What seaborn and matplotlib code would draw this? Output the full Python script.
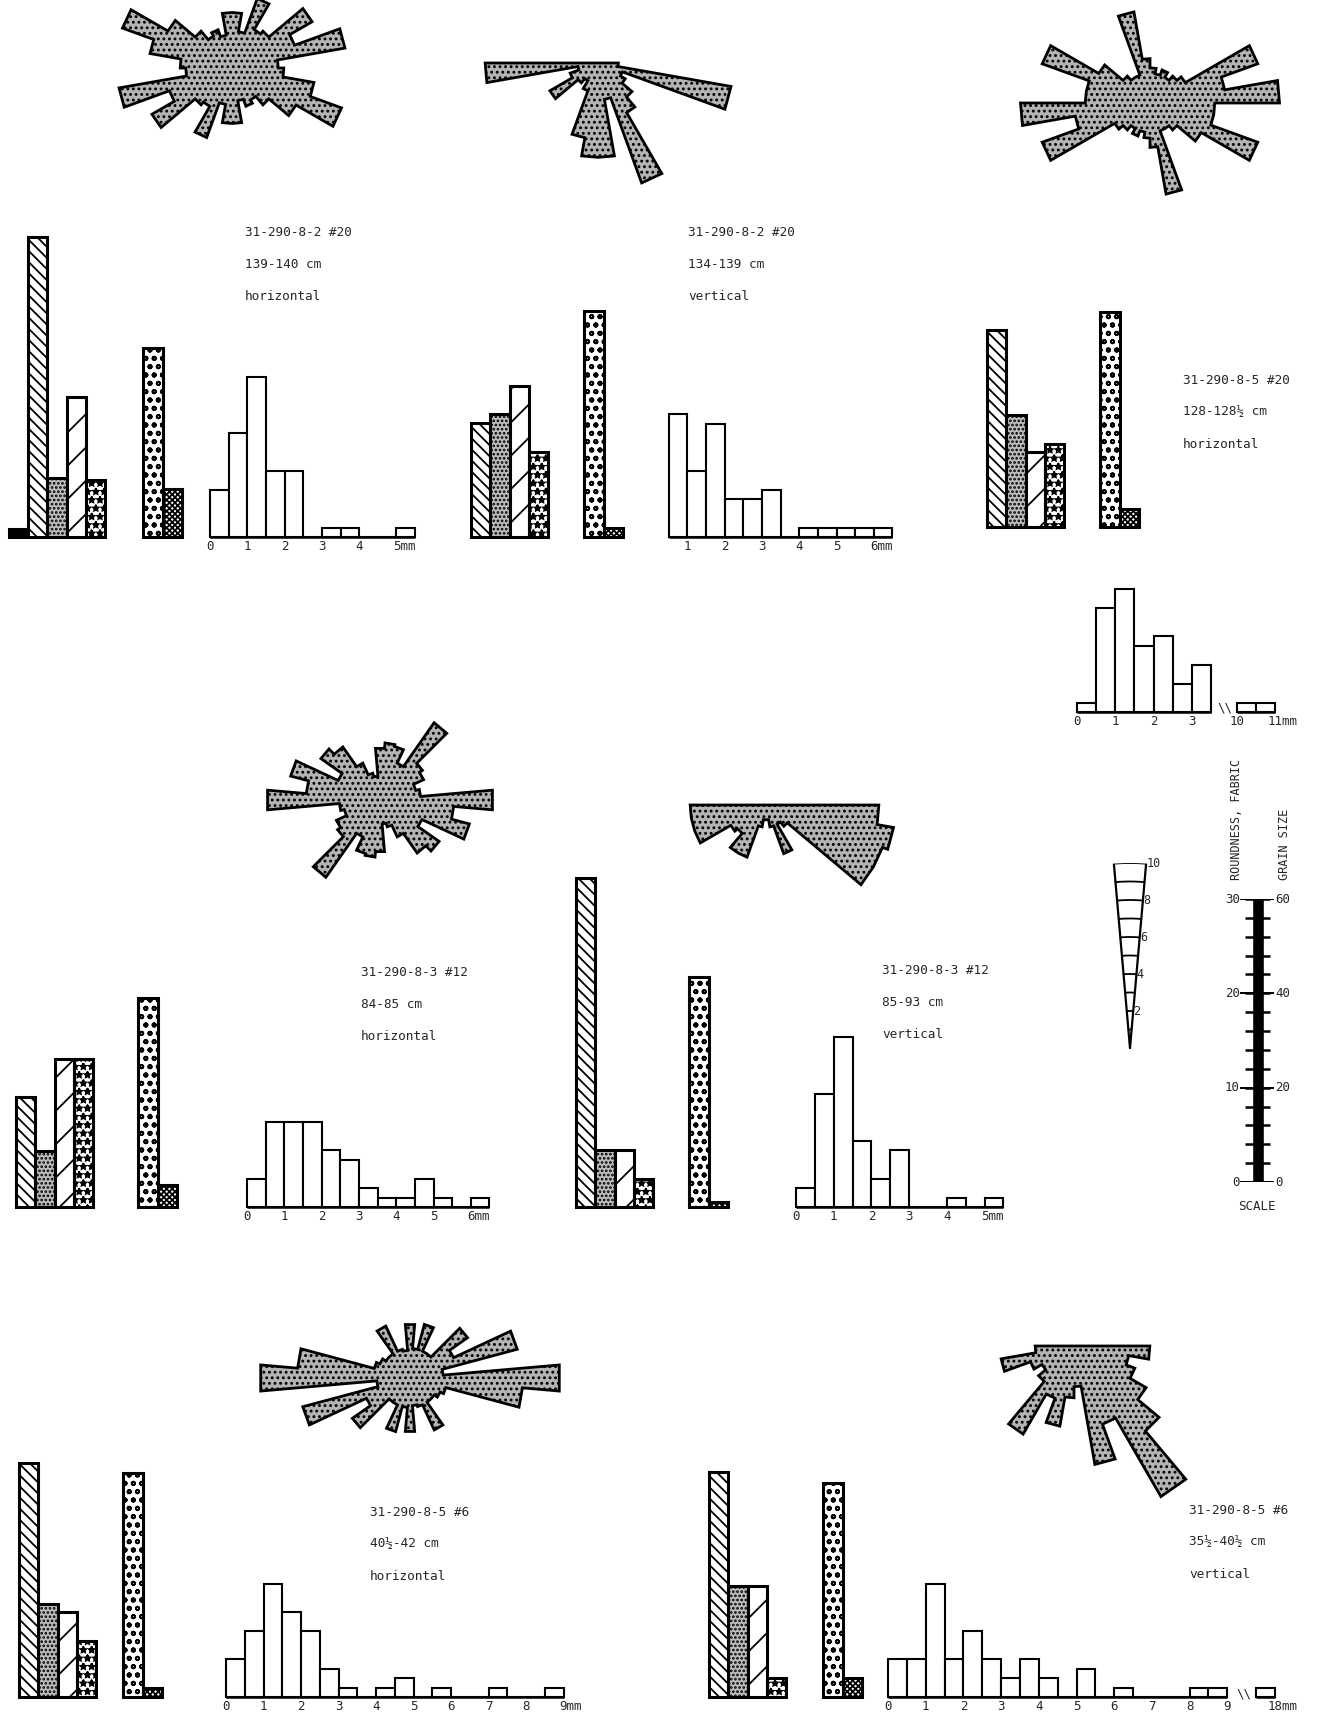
import numpy as np
import pandas as pd
import matplotlib
matplotlib.use("Agg")
import matplotlib.pyplot as plt
import seaborn as sns
from matplotlib.transforms import ScaledTranslation

sns.set_style("white")
plt.rcParams["font.family"] = ["DejaVu Sans Mono", "DejaVu Sans"]
plt.rcParams["hatch.linewidth"] = 1.3

# ---------------- data ----------------
# roundness classes and fabric classes (bar order left -> right)
round_classes = ["very angular", "angular", "subangular", "subrounded", "rounded"]
fabric_classes = ["dominant", "minor"]

# roundness / fabric values (scale 0-30), grain size histograms (% per 0.5 mm, scale 0-60)
# rose diagrams: 10 degree sectors, lengths in wedge units (0-10)
# horizontal sections: 18 sectors over 180 deg (mirrored), vertical sections: sectors 180-360 deg

labels_1 = ["31-290-8-2 #20", "139-140 cm", "horizontal"]
round_1 = [0.9, 31.8, 6.3, 14.8, 6.0]
fabric_1 = [20.0, 5.1]
grain_1 = [10, 22, 34, 14, 14, 0, 2, 2, 0, 0, 2]
ticks_1 = [0, 1, 2, 3, 4, 5]
rose_1 = [2.5, 6.2, 3.6, 5.0, 2.6, 2.4, 4.0, 2.0, 3.0, 3.0, 1.8, 2.2, 2.0, 2.6, 4.0, 6.3, 4.5, 2.8]

labels_2 = ["31-290-8-2 #20", "134-139 cm", "vertical"]
round_2 = [0, 12.1, 13.0, 16.0, 9.0]
fabric_2 = [24.0, 1.0]
grain_2 = [26, 14, 24, 8, 8, 10, 0, 2, 2, 2, 2, 2]
ticks_2 = [1, 2, 3, 4, 5, 6]
rose_2 = [6.1, 1.1, 1.6, 3.0, 1.4, 1.1, 1.6, 4.1, 5.1, 5.1, 2.0, 6.9, 3.1, 2.4, 1.7, 1.4, 7.3, 1.1]

labels_3 = ["31-290-8-5 #20", "128-128½ cm", "horizontal"]
round_3 = [0, 20.9, 11.9, 8.0, 8.8]
fabric_3 = [22.8, 1.9]
grain_3 = [2, 22, 26, 14, 16, 6, 10]
ticks_3 = [0, 1, 2, 3]
grain_3b = [2, 2]
ticks_3b = [10, 11]
rose_3 = [7.0, 4.1, 6.2, 2.2, 1.9, 1.6, 1.9, 1.6, 1.9, 2.4, 5.0, 1.6, 1.6, 1.9, 3.2, 6.2, 3.5, 3.5]

labels_4 = ["31-290-8-3 #12", "84-85 cm", "horizontal"]
round_4 = [0, 11.7, 5.9, 15.7, 15.7]
fabric_4 = [22.2, 2.3]
grain_4 = [6, 18, 18, 18, 12, 10, 4, 2, 2, 6, 2, 0, 2]
ticks_4 = [0, 1, 2, 3, 4, 5, 6]
rose_4 = [6.1, 2.2, 2.0, 2.6, 2.8, 5.1, 2.2, 3.0, 3.1, 2.8, 1.3, 1.5, 2.2, 3.5, 3.9, 2.5, 5.0, 4.0]

labels_5 = ["31-290-8-3 #12", "85-93 cm", "vertical"]
round_5 = [0, 34.9, 6.0, 6.0, 3.0]
fabric_5 = [24.4, 0.5]
grain_5 = [4, 24, 36, 14, 6, 12, 0, 0, 2, 0, 2]
ticks_5 = [0, 1, 2, 3, 4, 5]
rose_5 = [4.1, 4.1, 4.1, 2.2, 2.0, 3.0, 3.0, 1.2, 0.8, 0.8, 1.2, 2.8, 1.2, 1.5, 6.7, 6.7, 7.0, 6.1]

labels_6 = ["31-290-8-5 #6", "40½-42 cm", "horizontal"]
round_6 = [0, 24.8, 9.9, 9.0, 5.9]
fabric_6 = [23.8, 1.0]
grain_6 = [8, 14, 24, 18, 14, 6, 2, 0, 2, 4, 0, 2, 0, 0, 2, 0, 0, 2]
ticks_6 = [0, 1, 2, 3, 4, 5, 6, 7, 8, 9]
rose_6 = [8.1, 1.8, 6.0, 2.6, 3.8, 1.6, 1.6, 3.0, 1.6, 2.9, 1.5, 1.6, 3.1, 1.6, 1.6, 1.8, 2.0, 6.1]

labels_7 = ["31-290-8-5 #6", "35½-40½ cm", "vertical"]
round_7 = [0, 23.9, 11.8, 11.8, 2.0]
fabric_7 = [22.7, 2.0]
grain_7 = [8, 8, 24, 8, 14, 8, 4, 8, 4, 0, 6, 0, 2, 0, 0, 0, 2, 2]
ticks_7 = [0, 1, 2, 3, 4, 5, 6, 7, 8, 9]
grain_7b = [2]
ticks_7b = [18]
rose_7 = [2.1, 4.0, 2.5, 2.0, 2.5, 5.5, 3.0, 4.4, 2.8, 2.2, 6.5, 4.5, 9.4, 6.0, 4.5, 3.5, 3.0, 4.1]

wedge_ticks = [2, 4, 6, 8, 10]
scale_minor = np.arange(0, 31, 2)
scale_round = [0, 10, 20, 30]
scale_grain = [0, 20, 40, 60]

# ---------------- drawing helpers ----------------
W, H, DPI = 1322, 1719, 100
ROSE_PX = 18.5    # px per wedge unit
ROUND_PX = 9.43   # px per roundness/fabric unit
GRAIN_PX = 4.72   # px per grain size %

fig = plt.figure(figsize=(W / DPI, H / DPI), dpi=DPI)
fig.patch.set_facecolor("white")

round_hatch = ["solid", "\\\\\\", "....", "/", "**"]
round_face = ["black", "white", "#bdbdbd", "white", "white"]
fabric_hatch = ["oo", "xxxxxx"]
fabric_face = ["white", "white"]


def px_axes(x0, y0, x1, y1, **kw):
    ax = fig.add_axes([x0 / W, 1 - y1 / H, (x1 - x0) / W, (y1 - y0) / H], **kw)
    ax.patch.set_visible(False)
    return ax


def px_text(x, y, s, **kw):
    fig.text(x / W, 1 - y / H, s, **kw)


def draw_rose(cx, cy, vals, half, off=0):
    R = 10
    ax = px_axes(cx - R * ROSE_PX, cy - R * ROSE_PX, cx + R * ROSE_PX, cy + R * ROSE_PX,
                 projection="polar")
    r = np.asarray(vals, float) if half else np.concatenate([vals, vals])
    step = np.deg2rad(10)
    t0 = np.pi if half else np.deg2rad(off)
    lo = t0 + step * np.arange(len(r))
    theta = np.column_stack([lo, lo + step]).ravel()
    rad = np.repeat(r, 2)
    if half:
        theta = np.r_[t0, theta, t0 + step * len(r)]
        rad = np.r_[0, rad, 0]
    ax.fill(theta, rad, facecolor="#b4b4b4", edgecolor="black", linewidth=2.0, hatch="...")
    ax.set_ylim(0, R)
    ax.axis("off")


def draw_bars(left, base, cats, vals, hatches, faces, w):
    n = len(vals)
    top = 40
    ax = px_axes(left, base - top * ROUND_PX, left + n * w, base)
    sns.barplot(x=cats, y=vals, width=1.0, color="white", edgecolor="black",
                linewidth=2.2, saturation=1, errorbar=None, ax=ax)
    ax.set_xlim(-0.5, n - 0.5)
    ax.set_ylim(0, top)
    for p, h, f, v in zip(ax.patches, hatches, faces, vals):
        p.set_clip_on(False)
        p.set_facecolor(f)
        if v == 0:
            p.set_visible(False)
        if h != "solid":
            p.set_hatch(h)
    ax.axis("off")


def draw_hist(zero_px, ppm, base, start, vals, ticks, xlim, mm=True):
    ax = px_axes(zero_px + xlim[0] * ppm, base - 45 * GRAIN_PX, zero_px + xlim[1] * ppm, base)
    edges = start + 0.5 * np.arange(len(vals) + 1)
    df = pd.DataFrame({"size": edges[:-1] + 0.25, "pct": vals})
    sns.histplot(data=df, x="size", weights="pct", binwidth=0.5,
                 binrange=(edges[0], edges[-1]), color="white", edgecolor="black",
                 linewidth=1.5, alpha=1, ax=ax)
    for p in ax.patches:
        p.set_clip_on(False)
    ax.plot([edges[0], edges[-1]], [0, 0], color="black", lw=1.8, clip_on=False,
            solid_capstyle="butt")
    ax.set_xlim(*xlim)
    ax.set_ylim(0, 45)
    for s in ax.spines.values():
        s.set_visible(False)
    ax.set_yticks([])
    ax.set_xticks(ticks)
    labs = [str(t) for t in ticks]
    if mm:
        labs[-1] = labs[-1] + "mm"
    ax.set_xticklabels(labs)
    ax.tick_params(axis="x", length=0, pad=2.5, labelsize=9)
    ax.set_xlabel("")
    ax.set_ylabel("")
    if mm:
        lab = ax.get_xticklabels()[-1]
        lab.set_horizontalalignment("left")
        shift = len(str(ticks[-1])) * 3.8 / DPI
        lab.set_transform(lab.get_transform() + ScaledTranslation(-shift, 0, fig.dpi_scale_trans))
    return ax


def draw_labels(x, y, lines):
    for i, s in enumerate(lines):
        px_text(x, y + i * 32, s, fontsize=9.2, ha="left", va="center")


# ---------------- panels ----------------
panels = [
    dict(rose=rose_1, c=(232, 68), half=False, off=0, rl=9, fl=143, base=537,
         grain=grain_1, ticks=ticks_1, z=210, ppm=37.3, start=0.0, xlim=(-0.2, 6.0),
         rnd=round_1, fab=fabric_1, lab=labels_1, t=(245, 233)),
    dict(rose=rose_2, c=(598, 63), half=True, rl=452, fl=584, base=537,
         grain=grain_2, ticks=ticks_2, z=650, ppm=37.3, start=0.5, xlim=(0.3, 7.0),
         rnd=round_2, fab=fabric_2, lab=labels_2, t=(688, 233)),
    dict(rose=rose_3, c=(1150, 103), half=False, off=0, rl=968, fl=1100, base=527,
         grain=grain_3, ticks=ticks_3, z=1077, ppm=38.3, start=0.0, xlim=(-0.2, 3.6),
         rnd=round_3, fab=fabric_3, lab=labels_3, t=(1183, 380), hbase=712, mm=False),
    dict(rose=rose_4, c=(380, 800), half=False, off=-5, rl=-3, fl=138, base=1207,
         grain=grain_4, ticks=ticks_4, z=247, ppm=37.3, start=0.0, xlim=(-0.2, 7.0),
         rnd=round_4, fab=fabric_4, lab=labels_4, t=(361, 972)),
    dict(rose=rose_5, c=(766, 805), half=True, rl=557, fl=689, base=1207,
         grain=grain_5, ticks=ticks_5, z=796, ppm=37.7, start=0.0, xlim=(-0.2, 6.0),
         rnd=round_5, fab=fabric_5, lab=labels_5, t=(882, 970)),
    dict(rose=rose_6, c=(410, 1378), half=False, off=-5, rl=0, fl=123, base=1697,
         grain=grain_6, ticks=ticks_6, z=226, ppm=37.5, start=0.0, xlim=(-0.2, 9.8),
         rnd=round_6, fab=fabric_6, lab=labels_6, t=(370, 1512)),
    dict(rose=rose_7, c=(1074, 1346), half=True, rl=690, fl=823, base=1697,
         grain=grain_7, ticks=ticks_7, z=888, ppm=37.7, start=0.0, xlim=(-0.2, 9.3),
         rnd=round_7, fab=fabric_7, lab=labels_7, t=(1189, 1510), mm=False),
]

for P in panels:
    draw_rose(P["c"][0], P["c"][1], P["rose"], P["half"], P.get("off", 0))
    draw_bars(P["rl"], P["base"], round_classes, P["rnd"], round_hatch, round_face, 19.2)
    draw_bars(P["fl"], P["base"], fabric_classes, P["fab"], fabric_hatch, fabric_face, 19.5)
    draw_hist(P["z"], P["ppm"], P.get("hbase", P["base"]), P["start"], P["grain"],
              P["ticks"], P["xlim"], mm=P.get("mm", True))
    draw_labels(P["t"][0], P["t"][1], P["lab"])

# broken-axis tails of the grain size histograms
draw_hist(1237 - 10 * 38.3, 38.3, 712, 10.0, grain_3b, ticks_3b, (9.6, 12.0))
draw_hist(1256 - 17.5 * 37.7, 37.7, 1697, 17.5, grain_7b, ticks_7b, (17.2, 19.0))
px_text(1225, 708, "\\\\", fontsize=9, ha="center", va="center")
px_text(1244, 1694, "\\\\", fontsize=9, ha="center", va="center")

# ---------------- rose wedge scale ----------------
R = 10
axw = px_axes(1130 - R * ROSE_PX, 1048 - R * ROSE_PX, 1130 + R * ROSE_PX, 1048 + R * ROSE_PX,
              projection="polar")
t1, t2 = np.deg2rad(85), np.deg2rad(95)
axw.plot([t1, t1], [0, R], color="black", lw=1.6)
axw.plot([t2, t2], [0, R], color="black", lw=1.6)
for k in range(1, R + 1):
    axw.plot(np.linspace(t1, t2, 12), np.full(12, k), color="black", lw=1.3)
for k in wedge_ticks:
    axw.text(t1 - 0.004, k, str(k), fontsize=8.5, ha="left", va="center")
axw.set_ylim(0, R)
axw.axis("off")

# ---------------- roundness / grain size scale bar ----------------
axs = px_axes(1200, 899, 1320, 1182)
axs.set_xlim(1200, 1320)
axs.set_ylim(0, 30)
axs.bar([1257.5], [30], width=12, color="black", align="center")
axs.hlines(scale_minor, 1245, 1270, color="black", lw=1.8)
axs.hlines(scale_round, 1240, 1257, color="black", lw=1.4)
axs.hlines(scale_round, 1257, 1274, color="black", lw=1.4)
for v, g in zip(scale_round, scale_grain):
    axs.text(1240, v, str(v), fontsize=9, ha="right", va="center")
    axs.text(1275, v, str(g), fontsize=9, ha="left", va="center")
axs.axis("off")
px_text(1236, 880, "ROUNDNESS, FABRIC", fontsize=8.5, rotation=90, ha="center", va="bottom")
px_text(1284, 880, "GRAIN SIZE", fontsize=8.5, rotation=90, ha="center", va="bottom")
px_text(1257, 1206, "SCALE", fontsize=9, ha="center", va="center")

fig.savefig("out.png", dpi=DPI, facecolor="white")
